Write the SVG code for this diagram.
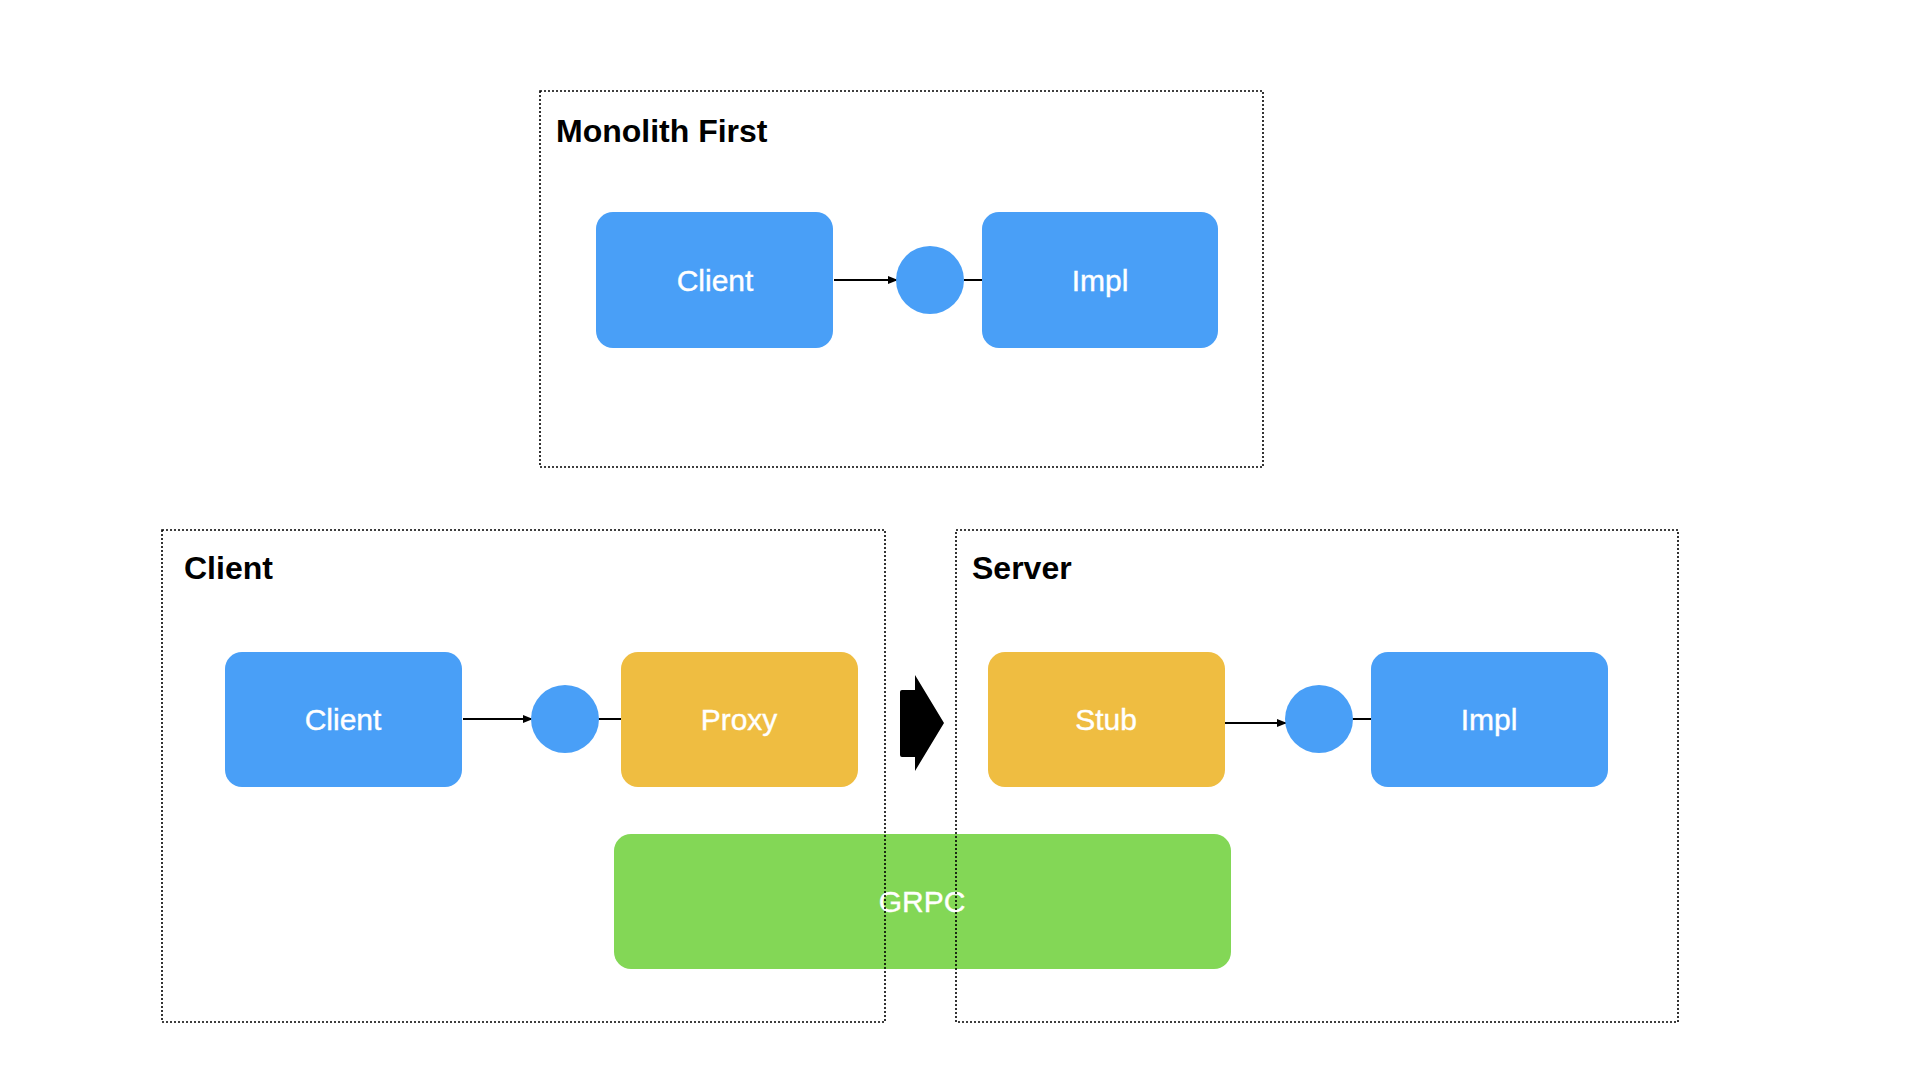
<svg xmlns="http://www.w3.org/2000/svg" width="1920" height="1080" viewBox="0 0 1920 1080">
<style>
.bg{fill:#ffffff}
.frame{fill:none;stroke:#000;stroke-width:1.6;stroke-dasharray:2 2}
.title{font-family:"Liberation Sans",Arial,sans-serif;font-weight:bold;font-size:32px;fill:#000}
.lbl{font-family:"Liberation Sans",Arial,sans-serif;font-size:30px;fill:#fff;stroke:#fff;stroke-width:0.4;text-anchor:middle}
.blue{fill:#499FF7}
.yellow{fill:#EFBD41}
.green{fill:#83D756}
.conn{stroke:#000;stroke-width:2;fill:none}
</style>
<defs>
<marker id="ah" markerWidth="10" markerHeight="10" refX="9" refY="5" orient="auto" markerUnits="userSpaceOnUse">
<path d="M0,1 L10,5 L0,9 Z" fill="#000"/>
</marker>
</defs>
<rect class="bg" x="0" y="0" width="1920" height="1080"/>

<g id="grpc">
<rect class="green" x="614" y="834" width="617" height="135" rx="17"/>
<text class="lbl" x="922" y="912">GRPC</text>
</g>

<g id="frame-monolith">
<rect class="frame" x="540" y="91" width="723" height="376"/>
<text class="title" x="556" y="142">Monolith First</text>
</g>
<g id="frame-client">
<rect class="frame" x="162" y="530" width="723" height="492"/>
<text class="title" x="184" y="579">Client</text>
</g>
<g id="frame-server">
<rect class="frame" x="956" y="530" width="722" height="492"/>
<text class="title" x="972" y="579">Server</text>
</g>

<g id="connectors">
<line class="conn" x1="834" y1="280" x2="897" y2="280" marker-end="url(#ah)"/>
<line class="conn" x1="964" y1="280" x2="983" y2="280"/>
<line class="conn" x1="463" y1="719" x2="532" y2="719" marker-end="url(#ah)"/>
<line class="conn" x1="598" y1="719" x2="621" y2="719"/>
<line class="conn" x1="1225" y1="723" x2="1286" y2="723" marker-end="url(#ah)"/>
<line class="conn" x1="1352" y1="719" x2="1371" y2="719"/>
</g>

<g id="m-client">
<rect class="blue" x="596" y="212" width="237" height="136" rx="17"/>
<text class="lbl" x="715" y="291">Client</text>
</g>
<g id="m-iface">
<circle class="blue" cx="930" cy="280" r="34"/>
</g>
<g id="m-impl">
<rect class="blue" x="982" y="212" width="236" height="136" rx="17"/>
<text class="lbl" x="1100" y="291">Impl</text>
</g>

<g id="c-client">
<rect class="blue" x="225" y="652" width="237" height="135" rx="17"/>
<text class="lbl" x="343" y="730">Client</text>
</g>
<g id="c-iface">
<circle class="blue" cx="565" cy="719" r="34"/>
</g>
<g id="c-proxy">
<rect class="yellow" x="621" y="652" width="237" height="135" rx="17"/>
<text class="lbl" x="739" y="730">Proxy</text>
</g>

<g id="s-stub">
<rect class="yellow" x="988" y="652" width="237" height="135" rx="17"/>
<text class="lbl" x="1106" y="730">Stub</text>
</g>
<g id="s-iface">
<circle class="blue" cx="1319" cy="719" r="34"/>
</g>
<g id="s-impl">
<rect class="blue" x="1371" y="652" width="237" height="135" rx="17"/>
<text class="lbl" x="1489" y="730">Impl</text>
</g>

<g id="transition-arrow">
<path d="M902,690 L915,690 L915,675 L944,723 L915,771 L915,757 L902,757 Q900,757 900,755 L900,692 Q900,690 902,690 Z" fill="#000"/>
</g>
</svg>
